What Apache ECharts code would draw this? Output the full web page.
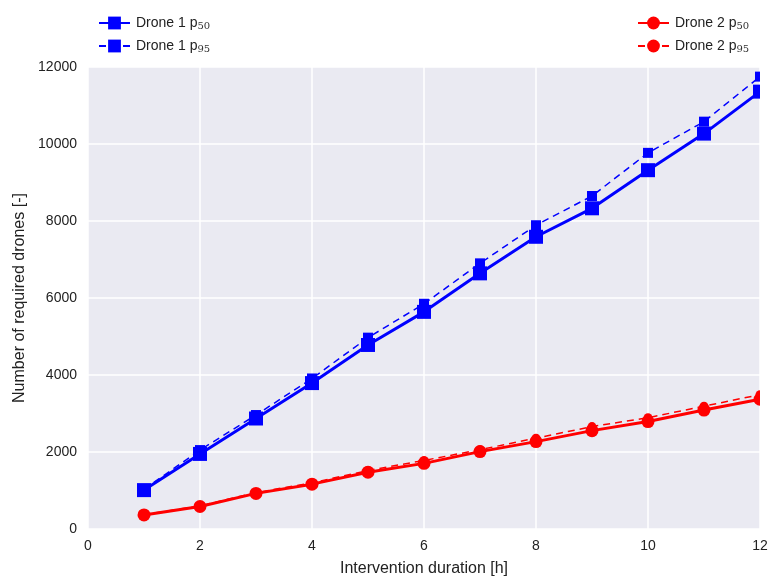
<!DOCTYPE html>
<html><head><meta charset="utf-8">
<script src="https://cdn.jsdelivr.net/npm/echarts@6/dist/echarts.min.js"></script>
<style>html,body{margin:0;padding:0;background:#fff}#c{width:768px;height:576px}</style>
</head><body><div id="c"></div>
<script>
const hours = [1,2,3,4,5,6,7,8,9,10,11,12];
const drone1P50 = [1010,1950,2870,3790,4780,5640,6640,7590,8330,9320,10270,11360];
const drone1P95 = [1030,2050,2960,3910,4970,5850,6900,7890,8650,9770,10580,11750];
const drone2P50 = [365,585,925,1165,1475,1705,2010,2270,2555,2790,3090,3370];
const drone2P95 = [375,600,945,1200,1520,1780,2060,2360,2660,2890,3190,3490];
const xTicks = [0,2,4,6,8,10,12];
const yTicks = [0,2000,4000,6000,8000,10000,12000];

const font = 'Liberation Sans, Arial, sans-serif';
const rich = {
  n:{fontSize:14, fontFamily:font, color:'#222', padding:[0,0,0,1]},
  s:{fontSize:10, fontFamily:'DejaVu Serif, serif', color:'#333', padding:[6,0,0,0]}
};
function pair(a){return hours.map((h,i)=>[h,a[i]]);}
function legendFmt(n){const m=n.match(/^(.*) p(\d+)$/);return '{n|'+m[1]+' p}{s|'+m[2]+'}';}

const chart = echarts.init(document.getElementById('c'));
chart.setOption({
  animation:false,
  backgroundColor:'#fff',
  textStyle:{fontFamily:font},
  legend:[
    {data:['Drone 1 p50','Drone 1 p95'], orient:'vertical', left:93, top:11, itemWidth:31, itemHeight:16, itemGap:8,
     formatter:legendFmt, textStyle:{fontSize:14, color:'#222', fontFamily:font, rich:rich}},
    {data:['Drone 2 p50','Drone 2 p95'], orient:'vertical', left:632, top:11, itemWidth:31, itemHeight:16, itemGap:8,
     formatter:legendFmt, textStyle:{fontSize:14, color:'#222', fontFamily:font, rich:rich}}
  ],
  grid:{left:88, right:8, top:67, bottom:47, show:true, backgroundColor:'#EAEAF2', borderWidth:0, outerBoundsMode:'none', containLabel:false},
  xAxis:{type:'value', min:0, max:12, interval:2,
    name:'Intervention duration [h]', nameLocation:'middle', nameGap:32,
    nameTextStyle:{fontSize:16, color:'#222', fontFamily:font},
    axisLine:{show:false}, axisTick:{show:false},
    axisLabel:{fontSize:14, color:'#222', margin:10, formatter:v=>xTicks.includes(v)?String(v):''},
    splitLine:{show:true, lineStyle:{color:'#fff', width:1.5}}},
  yAxis:{type:'value', min:0, max:12000, interval:2000,
    name:'Number of required drones [-]', nameLocation:'middle', nameGap:60, nameRotate:90,
    nameTextStyle:{fontSize:16, color:'#222', fontFamily:font},
    axisLine:{show:false}, axisTick:{show:false},
    axisLabel:{fontSize:14, color:'#222', margin:11, formatter:v=>yTicks.includes(v)?String(v):''},
    splitLine:{show:true, lineStyle:{color:'#fff', width:1.5}}},
  graphic:[{type:'rect', right:0, top:60, shape:{width:8, height:475}, style:{fill:'#fff'}, z:100}],
  series:[
    {name:'Drone 1 p50', type:'line', data:pair(drone1P50), symbol:'rect', symbolSize:14,
     lineStyle:{color:'#0000ff', width:3}, itemStyle:{color:'#0000ff'}, z:3},
    {name:'Drone 1 p95', type:'line', data:pair(drone1P95), symbol:'rect', symbolSize:10,
     lineStyle:{color:'#0000ff', width:1.5, type:[7,5]}, itemStyle:{color:'#0000ff'}, z:2},
    {name:'Drone 2 p50', type:'line', data:pair(drone2P50), symbol:'circle', symbolSize:13,
     lineStyle:{color:'#ff0000', width:3}, itemStyle:{color:'#ff0000'}, z:3},
    {name:'Drone 2 p95', type:'line', data:pair(drone2P95), symbol:'circle', symbolSize:9,
     lineStyle:{color:'#ff0000', width:1.5, type:[7,5]}, itemStyle:{color:'#ff0000'}, z:2}
  ]
});
</script></body></html>
